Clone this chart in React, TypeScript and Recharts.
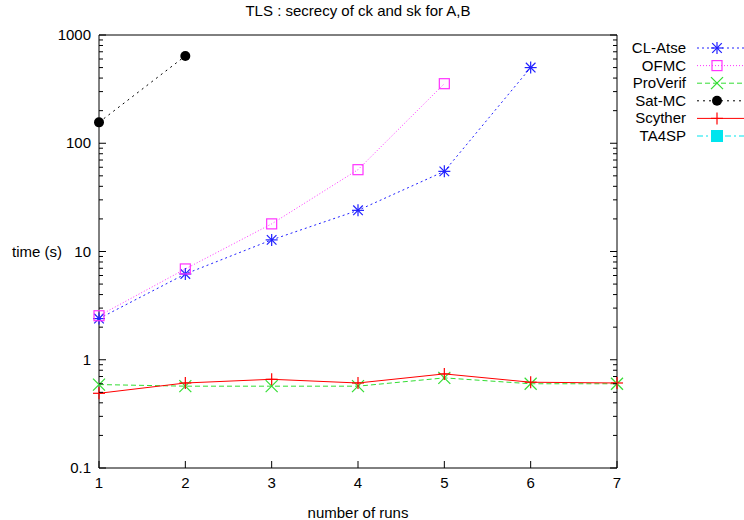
import React from 'react';
import { LineChart, Line, XAxis, YAxis, Legend } from 'recharts';

const runs = [1, 2, 3, 4, 5, 6, 7];
const clAtse = [2.4, 6.2, 12.8, 24, 55, 500];
const ofmc = [2.55, 6.9, 18, 57, 355];
const proVerif = [0.59, 0.57, 0.57, 0.57, 0.68, 0.6, 0.6];
const satMc = [156, 640];
const scyther = [0.49, 0.61, 0.66, 0.61, 0.74, 0.62, 0.61];
const ta4sp: number[] = [];

const xTicks = [1, 2, 3, 4, 5, 6, 7];
const decades = [0.1, 1, 10, 100];
const yTicks = [...decades.flatMap(d => [1, 2, 3, 4, 5, 6, 7, 8, 9].map(m => d * m)), 1000];

const FONT = '"Liberation Sans", Arial, sans-serif';
const FS = 15;

type Shape = 'star' | 'square' | 'x' | 'circle' | 'plus' | 'fsquare';

interface Series {
  name: string;
  values: number[];
  color: string;
  dash?: string;
  shape: Shape;
}

const series: Series[] = [
  { name: 'CL-Atse', values: clAtse, color: '#2020ff', dash: '2 3', shape: 'star' },
  { name: 'OFMC', values: ofmc, color: '#ff33ff', dash: '1 2', shape: 'square' },
  { name: 'ProVerif', values: proVerif, color: '#33dd33', dash: '5 3', shape: 'x' },
  { name: 'Sat-MC', values: satMc, color: '#000000', dash: '2 4', shape: 'circle' },
  { name: 'Scyther', values: scyther, color: '#ff0000', shape: 'plus' },
  { name: 'TA4SP', values: ta4sp, color: '#00e5ee', dash: '6 3 2 3', shape: 'fsquare' },
];

const Marker = ({ cx, cy, shape, color }: { cx: number; cy: number; shape: Shape; color: string }) => {
  const r = 6;
  switch (shape) {
    case 'star':
      return (
        <g stroke={color} strokeWidth={1.2}>
          <line x1={cx - r} y1={cy} x2={cx + r} y2={cy} />
          <line x1={cx} y1={cy - r} x2={cx} y2={cy + r} />
          <line x1={cx - r * 0.8} y1={cy - r * 0.8} x2={cx + r * 0.8} y2={cy + r * 0.8} />
          <line x1={cx - r * 0.8} y1={cy + r * 0.8} x2={cx + r * 0.8} y2={cy - r * 0.8} />
        </g>
      );
    case 'square':
      return <rect x={cx - 5} y={cy - 5} width={10} height={10} fill="none" stroke={color} strokeWidth={1.2} />;
    case 'x':
      return (
        <g stroke={color} strokeWidth={1.2}>
          <line x1={cx - r} y1={cy - r} x2={cx + r} y2={cy + r} />
          <line x1={cx - r} y1={cy + r} x2={cx + r} y2={cy - r} />
        </g>
      );
    case 'circle':
      return <circle cx={cx} cy={cy} r={5} fill={color} />;
    case 'plus':
      return (
        <g stroke={color} strokeWidth={1.2}>
          <line x1={cx - r} y1={cy} x2={cx + r} y2={cy} />
          <line x1={cx} y1={cy - r} x2={cx} y2={cy + r} />
        </g>
      );
    default:
      return <rect x={cx - 6} y={cy - 6} width={12} height={12} fill={color} />;
  }
};

const isMajor = (v: number) => Math.abs(Math.log10(v) - Math.round(Math.log10(v))) < 1e-9;

const LeftTick = (props: any) => {
  const { x, y, payload } = props;
  const major = isMajor(payload.value);
  return (
    <g>
      <line x1={x} y1={y} x2={x + (major ? 7 : 4)} y2={y} stroke="#000" />
      {major && (
        <text x={x - 8} y={y} dy={5} textAnchor="end" fontSize={FS} fontFamily={FONT} fill="#000">
          {String(Math.round(payload.value * 10) / 10)}
        </text>
      )}
    </g>
  );
};

const RightTick = (props: any) => {
  const { x, y, payload } = props;
  const major = isMajor(payload.value);
  return <line x1={x} y1={y} x2={x - (major ? 7 : 4)} y2={y} stroke="#000" />;
};

const BottomTick = (props: any) => {
  const { x, y, payload } = props;
  return (
    <g>
      <line x1={x} y1={y} x2={x} y2={y - 7} stroke="#000" />
      <text x={x} y={y + 20} textAnchor="middle" fontSize={FS} fontFamily={FONT} fill="#000">
        {payload.value}
      </text>
    </g>
  );
};

const TopTick = (props: any) => {
  const { x, y } = props;
  return <line x1={x} y1={y} x2={x} y2={y + 7} stroke="#000" />;
};

// legend rows, gnuplot style: text right aligned, sample line with marker
const LegendBox = () => (
  <svg width={124} height={110}>
    {series.map((s, i) => {
      const y = 9 + i * 17.6;
      return (
        <g key={s.name}>
          <text x={66} y={y} dy={5} textAnchor="end" fontSize={FS} fontFamily={FONT} fill="#000">
            {s.name}
          </text>
          <line x1={77} y1={y} x2={124} y2={y} stroke={s.color} strokeDasharray={s.dash} />
          <Marker cx={97} cy={y} shape={s.shape} color={s.color} />
        </g>
      );
    })}
  </svg>
);

export default function App() {
  return (
    <div style={{ position: 'absolute', left: 0, top: 0, width: 744, height: 520, background: '#fff' }}>
      <div
        style={{
          position: 'absolute',
          top: 2,
          left: 0,
          width: 716,
          textAlign: 'center',
          fontSize: FS,
          fontFamily: FONT,
        }}
      >
        TLS : secrecy of ck and sk for A,B
      </div>
      <LineChart width={744} height={520} margin={{ top: 34, right: 126, bottom: 0, left: 0 }}>
        <XAxis
          xAxisId="b"
          type="number"
          dataKey="x"
          domain={[1, 7]}
          ticks={xTicks}
          interval={0}
          height={52}
          tickSize={0}
          tickMargin={0}
          tickLine={false}
          tick={BottomTick}
          stroke="#000"
          allowDecimals={false}
          label={{ value: 'number of runs', position: 'insideBottom', offset: 2, fontSize: FS, fontFamily: FONT, fill: '#000' }}
        />
        <XAxis
          xAxisId="t"
          orientation="top"
          type="number"
          dataKey="x"
          domain={[1, 7]}
          ticks={xTicks}
          interval={0}
          height={1}
          tickSize={0}
          tickMargin={0}
          tickLine={false}
          tick={TopTick}
          stroke="#000"
        />
        <YAxis
          yAxisId="l"
          scale="log"
          domain={[0.1, 1000]}
          allowDataOverflow
          ticks={yTicks}
          interval={0}
          width={99}
          tickSize={0}
          tickMargin={0}
          tickLine={false}
          tick={LeftTick}
          stroke="#000"
          label={{ value: 'time (s)', position: 'insideLeft', offset: 12, angle: 0, fontSize: FS, fontFamily: FONT, fill: '#000' }}
        />
        <YAxis
          yAxisId="r"
          orientation="right"
          scale="log"
          domain={[0.1, 1000]}
          allowDataOverflow
          ticks={yTicks}
          interval={0}
          width={1}
          tickSize={0}
          tickMargin={0}
          tickLine={false}
          tick={RightTick}
          stroke="#000"
        />
        <Legend
          layout="horizontal"
          align="center"
          verticalAlign="middle"
          wrapperStyle={{ left: 620, top: 39, width: 124, height: 110 }}
          content={() => <LegendBox />}
        />
        {series.map(s => (
          <Line
            key={s.name}
            xAxisId="b"
            yAxisId="l"
            data={s.values.map((v, i) => ({ x: runs[i], y: v }))}
            dataKey="y"
            name={s.name}
            stroke={s.color}
            strokeWidth={1}
            strokeDasharray={s.dash}
            isAnimationActive={false}
            activeDot={false}
            dot={(p: any) => <Marker key={`${s.name}-${p.index}`} cx={p.cx} cy={p.cy} shape={s.shape} color={s.color} />}
          />
        ))}
      </LineChart>
    </div>
  );
}
